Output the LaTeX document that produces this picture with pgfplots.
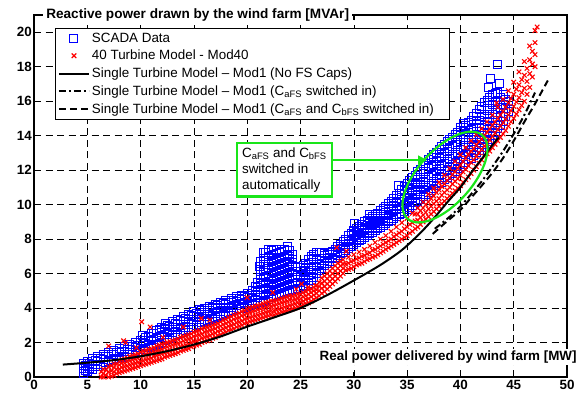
\documentclass[border=0pt]{standalone}
\usepackage{pgfplots}
\pgfplotsset{compat=1.18}
\usepackage{fontspec}
\setmainfont{Liberation Sans}
\usetikzlibrary{arrows.meta,shapes.geometric}
\definecolor{annogreen}{rgb}{0.1,0.9,0.1}
\pgfplotsset{
  markleg/.style={legend image code/.code={\draw[##1] plot coordinates {(15bp,0bp)};}},
  lineleg/.style={legend image code/.code={\draw[##1] (0bp,0bp) -- (30bp,0bp);}},
}
\begin{document}
\begin{tikzpicture}
\begin{axis}[
  at={(0,0)}, anchor=south west,
  width=533bp, height=362bp, scale only axis,
  xmin=0, xmax=50, ymin=0, ymax=21,
  xtick={0,5,...,50}, ytick={0,2,...,20},
  tick align=inside, major tick length=5bp,
  every tick/.style={black, line width=0.8bp},
  axis line style={line width=1.1bp},
  tick label style={font=\bfseries\fontsize{13.4bp}{14bp}\selectfont},
  /pgf/number format/assume math mode=true,
  yticklabel style={inner xsep=2bp},
  grid=major,
  major grid style={black, line width=0.6bp, dash pattern=on 7bp off 4.5bp},
  clip mode=individual,
  legend cell align=left,
  legend style={at={(0.039,0.964)}, anchor=north west, draw=black, fill=white,
    font=\fontsize{13.4bp}{15bp}\selectfont, inner xsep=3bp, inner ysep=2.5bp,
    row sep=2.6bp, /tikz/every even column/.append style={column sep=1bp}},
]
% SCADA data
\addplot[only marks, blue, mark=square, mark size=4bp, line width=1bp, markleg] coordinates {
(4.6,0.2)(4.6,0.5)(4.6,0.8)
(5,0.3)(5,0.6)(5,0.9)
(5.5,0.45)(5.5,0.75)(5.5,1.05)
(6,0.6)(6,0.9)(6,1.2)
(6.5,0.75)(6.5,1.0)(6.5,1.3)
(7,0.9)(7,1.2)(7,1.45)
(7.5,1.0)(7.5,1.3)(7.5,1.55)
(8,1.1)(8,1.4)(8,1.65)
(8.5,1.2)(8.5,1.5)(8.5,1.75)
(9,1.3)(9,1.6)(9,1.9)
(9.5,1.4)(9.5,1.7)(9.5,2.0)
(10,1.5)(10,1.8)(10,2.1)
(10.5,1.6)(10.5,1.95)(10.5,2.3)
(11,1.75)(11,2.1)(11,2.5)
(11.5,1.9)(11.5,2.3)(11.5,2.7)
(12,2.0)(12,2.3)(12,2.6)(12,2.85)
(12.5,2.15)(12.5,2.45)(12.5,2.75)(12.5,3.0)
(13,2.3)(13,2.6)(13,2.9)(13,3.2)
(13.5,2.45)(13.5,2.75)(13.5,3.05)(13.5,3.35)
(14,2.6)(14,2.9)(14,3.2)(14,3.5)
(14.5,2.75)(14.5,3.05)(14.5,3.35)(14.5,3.65)
(15,2.9)(15,3.2)(15,3.5)(15,3.8)
(15.5,3.05)(15.5,3.35)(15.5,3.65)(15.5,3.9)
(16,3.2)(16,3.5)(16,3.75)(16,4.0)
(16.5,3.35)(16.5,3.6)(16.5,3.85)(16.5,4.1)
(17,3.45)(17,3.7)(17,3.95)(17,4.2)
(17.5,3.55)(17.5,3.8)(17.5,4.05)(17.5,4.3)
(18,3.7)(18,3.95)(18,4.2)(18,4.45)
(18.5,3.8)(18.5,4.05)(18.5,4.3)(18.5,4.55)
(19,3.9)(19,4.15)(19,4.4)(19,4.65)
(19.5,4.0)(19.5,4.25)(19.5,4.5)(19.5,4.75)
(20,4.1)(20,4.35)(20,4.6)(20,4.85)
(20.5,4.2)(20.5,4.45)(20.5,4.7)(20.5,5.0)
(21,4.3)(21,4.6)(21,4.9)(21,5.2)(21,5.5)
(21.5,4.4)(21.5,4.75)(21.5,5.1)(21.5,5.45)(21.5,5.8)(21.5,6.15)(21.5,6.5)(21.5,6.85)(21.5,7.2)
(22,4.5)(22,4.85)(22,5.2)(22,5.55)(22,5.9)(22,6.3)(22,6.65)(22,7.0)(22,7.4)
(22.5,4.65)(22.5,5.0)(22.5,5.35)(22.5,5.7)(22.5,6.05)(22.5,6.4)(22.5,6.75)(22.5,7.1)(22.5,7.4)
(23,4.8)(23,5.15)(23,5.5)(23,5.85)(23,6.2)(23,6.55)(23,6.9)(23,7.2)(23,7.4)
(23.5,4.9)(23.5,5.25)(23.5,5.6)(23.5,5.95)(23.5,6.3)(23.5,6.65)(23.5,7.0)(23.5,7.4)
(24,5.0)(24,5.35)(24,5.7)(24,6.05)(24,6.4)(24,6.7)(24,7.0)(24,7.35)
(24.5,5.1)(24.5,5.45)(24.5,5.75)(24.5,6.1)(24.5,6.4)
(25,5.15)(25,5.5)(25,5.85)(25,6.1)(25,6.35)
(25.5,5.3)(25.5,5.65)(25.5,5.95)(25.5,6.3)(25.5,6.6)
(26,5.6)(26,5.95)(26,6.3)(26,6.65)(26,7.0)
(26.5,6.0)(26.5,6.4)(26.5,6.8)(26.5,7.2)
(27,6.3)(27,6.6)(27,6.9)(27,7.2)
(27.5,6.6)(27.5,6.85)(27.5,7.1)
(28,6.85)(28,7.1)(28,7.3)
(28.5,7.05)(28.5,7.3)(28.5,7.55)
(29,7.25)(29,7.55)(29,7.85)
(29.5,7.45)(29.5,7.85)(29.5,8.2)
(30,7.7)(30,8.0)(30,8.25)(30,8.5)
(30.5,7.9)(30.5,8.2)(30.5,8.5)(30.5,8.75)
(31,8.1)(31,8.4)(31,8.7)(31,9.0)
(31.5,8.3)(31.5,8.6)(31.5,8.9)(31.5,9.2)
(32,8.5)(32,8.8)(32,9.1)(32,9.4)
(32.5,8.7)(32.5,9.0)(32.5,9.3)(32.5,9.65)
(33,8.9)(33,9.2)(33,9.55)(33,9.9)
(33.5,9.1)(33.5,9.45)(33.5,9.8)(33.5,10.2)
(34,9.3)(34,9.7)(34,10.1)(34,10.5)
(34.5,9.5)(34.5,9.9)(34.5,10.3)(34.5,10.85)
(35,9.7)(35,10.1)(35,10.5)(35,10.85)(35,11.2)
(35.5,9.95)(35.5,10.35)(35.5,10.75)(35.5,11.15)(35.5,11.55)
(36,10.2)(36,10.6)(36,11.0)(36,11.45)(36,11.9)
(36.5,10.45)(36.5,10.85)(36.5,11.3)(36.5,11.8)(36.5,12.25)
(37,10.7)(37,11.1)(37,11.55)(37,12.1)(37,12.6)
(37.5,10.95)(37.5,11.35)(37.5,11.8)(37.5,12.35)(37.5,12.9)
(38,11.2)(38,11.6)(38,12.1)(38,12.65)(38,13.2)
(38.5,11.45)(38.5,11.9)(38.5,12.4)(38.5,12.95)(38.5,13.5)
(39,11.7)(39,12.15)(39,12.65)(39,13.25)(39,13.8)
(39.5,11.95)(39.5,12.4)(39.5,12.9)(39.5,13.5)(39.5,14.05)
(40,12.2)(40,12.65)(40,13.2)(40,13.75)(40,14.3)
(40.5,12.45)(40.5,12.9)(40.5,13.45)(40.5,14.05)(40.5,14.6)
(41,12.7)(41,13.2)(41,13.75)(41,14.35)(41,14.9)
(41.5,13.0)(41.5,13.5)(41.5,14.05)(41.5,14.7)(41.5,15.3)
(42,13.3)(42,13.85)(42,14.45)(42,15.1)(42,15.7)
(42.5,13.65)(42.5,14.2)(42.5,14.8)(42.5,15.45)(42.5,16.05)
(43,14.0)(43,14.6)(43,15.2)(43,15.8)(43,16.4)
(43.5,14.4)(43.5,14.9)(43.5,15.5)(43.5,16.0)(43.5,16.5)
(44,14.8)(44,15.3)(44,15.8)(44,16.4)
(44.5,15.4)(44.5,16.0)
(42.8,17.3)(43.5,18.1)(43.7,17.0)(40.0,14.5)(40.3,14.7)(42.6,16.8)
(34.2,11.1)(31.5,9.4)(30.1,8.9)(23.8,7.55)(21.2,6.4)(12.3,3.1)(10.2,2.4)
(4.8,0.35)(4.8,0.65)
(5.25,0.5)(5.25,0.8)
(5.75,0.6)(5.75,0.95)
(6.25,0.7)(6.25,1.05)
(6.75,0.85)(6.75,1.2)
(7.25,0.95)(7.25,1.3)
(7.75,1.05)(7.75,1.4)
(8.25,1.15)(8.25,1.5)
(8.75,1.3)(8.75,1.6)
(9.25,1.4)(9.25,1.75)
(9.75,1.5)(9.75,1.85)
(10.25,1.6)(10.25,2.0)
(10.75,1.7)(10.75,2.1)(10.75,2.35)
(11.25,1.85)(11.25,2.2)(11.25,2.55)
(11.75,1.95)(11.75,2.35)(11.75,2.75)
(12.25,2.1)(12.25,2.45)(12.25,2.8)
(12.75,2.25)(12.75,2.6)(12.75,2.95)
(13.25,2.4)(13.25,2.75)(13.25,3.1)
(13.75,2.55)(13.75,2.9)(13.75,3.25)
(14.25,2.7)(14.25,3.05)(14.25,3.4)
(14.75,2.85)(14.75,3.2)(14.75,3.55)
(15.25,3.0)(15.25,3.35)(15.25,3.7)
(15.75,3.15)(15.75,3.5)(15.75,3.85)
(16.25,3.3)(16.25,3.6)(16.25,3.95)
(16.75,3.4)(16.75,3.7)(16.75,4.05)
(17.25,3.5)(17.25,3.8)(17.25,4.15)
(17.75,3.65)(17.75,3.95)(17.75,4.25)
(18.25,3.75)(18.25,4.05)(18.25,4.35)
(18.75,3.85)(18.75,4.15)(18.75,4.45)
(19.25,3.95)(19.25,4.25)(19.25,4.55)
(19.75,4.05)(19.75,4.35)(19.75,4.65)
(20.25,4.15)(20.25,4.45)(20.25,4.75)
(20.75,4.25)(20.75,4.6)(20.75,4.95)(20.75,5.25)
(21.25,4.35)(21.25,4.7)(21.25,5.05)(21.25,5.4)(21.25,5.75)(21.25,6.1)(21.25,6.4)(21.25,6.7)
(21.75,4.45)(21.75,4.8)(21.75,5.15)(21.75,5.5)(21.75,5.85)(21.75,6.2)(21.75,6.55)(21.75,6.9)(21.75,7.25)
(22.25,4.6)(22.25,4.95)(22.25,5.3)(22.25,5.65)(22.25,6.0)(22.25,6.35)(22.25,6.7)(22.25,7.05)(22.25,7.35)
(22.75,4.7)(22.75,5.05)(22.75,5.4)(22.75,5.75)(22.75,6.1)(22.75,6.45)(22.75,6.8)(22.75,7.15)(22.75,7.4)
(23.25,4.85)(23.25,5.2)(23.25,5.55)(23.25,5.9)(23.25,6.25)(23.25,6.6)(23.25,6.95)(23.25,7.3)
(23.75,4.95)(23.75,5.3)(23.75,5.65)(23.75,6.0)(23.75,6.35)(23.75,6.7)(23.75,7.05)(23.75,7.35)
(24.25,5.05)(24.25,5.4)(24.25,5.75)(24.25,6.1)(24.25,6.45)(24.25,6.8)(24.25,7.1)
(24.75,5.15)(24.75,5.5)(24.75,5.8)(24.75,6.1)(24.75,6.35)
(25.25,5.25)(25.25,5.6)(25.25,5.9)(25.25,6.2)(25.25,6.45)
(25.75,5.45)(25.75,5.8)(25.75,6.15)(25.75,6.5)(25.75,6.8)
(26.25,5.8)(26.25,6.15)(26.25,6.5)(26.25,6.85)(26.25,7.1)
(26.75,6.15)(26.75,6.5)(26.75,6.85)(26.75,7.2)
(27.25,6.45)(27.25,6.75)(27.25,7.05)(27.25,7.15)
(27.75,6.7)(27.75,6.95)(27.75,7.2)
(28.25,6.95)(28.25,7.2)(28.25,7.4)
(28.75,7.15)(28.75,7.45)(28.75,7.7)
(29.25,7.35)(29.25,7.7)(29.25,8.0)
(29.75,7.55)(29.75,7.9)(29.75,8.2)(29.75,8.35)
(30.25,7.8)(30.25,8.1)(30.25,8.4)(30.25,8.6)
(30.75,8.0)(30.75,8.3)(30.75,8.6)(30.75,8.85)
(31.25,8.2)(31.25,8.5)(31.25,8.8)(31.25,9.1)
(31.75,8.4)(31.75,8.7)(31.75,9.0)(31.75,9.3)
(32.25,8.6)(32.25,8.9)(32.25,9.2)(32.25,9.5)
(32.75,8.8)(32.75,9.1)(32.75,9.45)(32.75,9.8)
(33.25,9.0)(33.25,9.35)(33.25,9.7)(33.25,10.05)
(33.75,9.2)(33.75,9.6)(33.75,9.95)(33.75,10.35)
(34.25,9.4)(34.25,9.8)(34.25,10.2)(34.25,10.65)
(34.75,9.6)(34.75,10.0)(34.75,10.4)(34.75,10.8)(34.75,11.05)
(35.25,9.85)(35.25,10.25)(35.25,10.65)(35.25,11.0)(35.25,11.4)
(35.75,10.1)(35.75,10.5)(35.75,10.9)(35.75,11.3)(35.75,11.7)
(36.25,10.3)(36.25,10.75)(36.25,11.15)(36.25,11.6)(36.25,12.05)
(36.75,10.6)(36.75,11.0)(36.75,11.45)(36.75,11.95)(36.75,12.4)
(37.25,10.8)(37.25,11.25)(37.25,11.7)(37.25,12.2)(37.25,12.75)
(37.75,11.1)(37.75,11.5)(37.75,11.95)(37.75,12.5)(37.75,13.05)
(38.25,11.3)(38.25,11.75)(38.25,12.25)(38.25,12.8)(38.25,13.35)
(38.75,11.6)(38.75,12.0)(38.75,12.5)(38.75,13.1)(38.75,13.65)
(39.25,11.8)(39.25,12.3)(39.25,12.8)(39.25,13.35)(39.25,13.9)
(39.75,12.1)(39.75,12.5)(39.75,13.05)(39.75,13.6)(39.75,14.2)
(40.25,12.3)(40.25,12.8)(40.25,13.3)(40.25,13.9)(40.25,14.45)
(40.75,12.6)(40.75,13.05)(40.75,13.6)(40.75,14.2)(40.75,14.75)
(41.25,12.85)(41.25,13.35)(41.25,13.9)(41.25,14.5)(41.25,15.1)
(41.75,13.15)(41.75,13.7)(41.75,14.25)(41.75,14.9)(41.75,15.5)
(42.25,13.5)(42.25,14.0)(42.25,14.6)(42.25,15.25)(42.25,15.9)
(42.75,13.8)(42.75,14.4)(42.75,15.0)(42.75,15.6)(42.75,16.2)
(43.25,14.2)(43.25,14.75)(43.25,15.35)(43.25,15.9)(43.25,16.45)
(43.75,14.6)(43.75,15.1)(43.75,15.65)(43.75,16.2)
(44.25,15.1)(44.25,15.6)(44.25,16.1)
};
\addlegendentry{SCADA Data}
% 40 turbine model
\addplot[only marks, red, mark=x, mark size=3.2bp, line width=1.1bp, markleg] coordinates {
(6.3,0.0)(6.3,0.3)
(6.5,0.0)(6.5,0.2)(6.5,0.45)
(7,0.0)(7,0.3)(7,0.6)
(7.5,0.1)(7.5,0.3)(7.5,0.55)(7.5,0.75)
(8,0.25)(8,0.45)(8,0.7)(8,0.9)
(8.5,0.35)(8.5,0.6)(8.5,0.8)(8.5,1.05)
(9,0.45)(9,0.7)(9,0.95)(9,1.2)
(9.5,0.55)(9.5,0.8)(9.5,1.05)(9.5,1.3)
(10,0.65)(10,0.9)(10,1.2)(10,1.45)
(10.5,0.75)(10.5,1.0)(10.5,1.3)(10.5,1.55)
(11,0.85)(11,1.1)(11,1.4)(11,1.65)
(11.5,0.95)(11.5,1.25)(11.5,1.5)(11.5,1.8)
(12,1.05)(12,1.35)(12,1.6)(12,1.9)
(12.5,1.2)(12.5,1.45)(12.5,1.75)(12.5,2.0)
(13,1.3)(13,1.55)(13,1.85)(13,2.1)
(13.5,1.4)(13.5,1.65)(13.5,1.95)(13.5,2.2)
(14,1.55)(14,1.8)(14,2.1)(14,2.35)
(14.5,1.65)(14.5,1.9)(14.5,2.2)(14.5,2.45)
(15,1.8)(15,2.05)(15,2.35)(15,2.6)
(15.5,1.9)(15.5,2.15)(15.5,2.45)(15.5,2.7)
(16,2.05)(16,2.3)(16,2.6)(16,2.85)
(16.5,2.15)(16.5,2.4)(16.5,2.7)(16.5,2.95)
(17,2.3)(17,2.55)(17,2.8)(17,3.05)
(17.5,2.45)(17.5,2.7)(17.5,2.95)(17.5,3.2)
(18,2.6)(18,2.85)(18,3.1)(18,3.35)
(18.5,2.75)(18.5,3.0)(18.5,3.25)(18.5,3.5)
(19,2.9)(19,3.15)(19,3.4)(19,3.65)
(19.5,3.0)(19.5,3.25)(19.5,3.55)(19.5,3.8)
(20,3.15)(20,3.4)(20,3.7)(20,3.95)
(20.5,3.25)(20.5,3.5)(20.5,3.8)(20.5,4.05)
(21,3.35)(21,3.6)(21,3.9)(21,4.15)
(21.5,3.45)(21.5,3.7)(21.5,4.0)(21.5,4.25)
(22,3.55)(22,3.8)(22,4.1)(22,4.35)
(22.5,3.6)(22.5,3.85)(22.5,4.15)(22.5,4.4)
(23,3.7)(23,3.95)(23,4.25)(23,4.5)
(23.5,3.8)(23.5,4.05)(23.5,4.35)(23.5,4.6)
(24,3.9)(24,4.15)(24,4.45)(24,4.7)
(24.5,4.0)(24.5,4.25)(24.5,4.5)(24.5,4.75)
(25,4.1)(25,4.35)(25,4.55)(25,4.8)
(25.5,4.25)(25.5,4.5)(25.5,4.7)(25.5,4.95)
(26,4.4)(26,4.65)(26,4.9)(26,5.1)
(26.5,4.6)(26.5,4.85)(26.5,5.05)(26.5,5.3)
(27,4.85)(27,5.15)(27,5.45)(27,5.75)
(27.5,5.1)(27.5,5.4)(27.5,5.7)(27.5,6.0)
(28,5.4)(28,5.7)(28,6.0)(28,6.3)
(28.5,5.7)(28.5,6.0)(28.5,6.3)(28.5,6.6)
(29,6.0)(29,6.3)(29,6.55)(29,6.8)
(29.5,6.25)(29.5,6.6)(29.5,6.95)
(30,6.4)(30,6.75)(30,7.1)
(30.5,6.55)(30.5,6.9)(30.5,7.25)
(31,6.7)(31,7.05)(31,7.4)
(31.5,6.85)(31.5,7.2)(31.5,7.6)
(32,7.0)(32,7.4)(32,7.8)
(32.5,7.2)(32.5,7.6)(32.5,8.0)
(33,7.4)(33,7.8)(33,8.2)
(33.5,7.6)(33.5,8.0)(33.5,8.45)
(34,7.8)(34,8.25)(34,8.7)
(34.5,8.0)(34.5,8.45)(34.5,8.95)
(35,8.2)(35,8.7)(35,9.2)
(35.5,8.45)(35.5,8.95)(35.5,9.5)
(36,8.7)(36,9.1)(36,9.45)(36,9.8)
(36.5,9.0)(36.5,9.4)(36.5,9.8)(36.5,10.15)
(37,9.3)(37,9.75)(37,10.15)(37,10.6)
(37.5,9.6)(37.5,10.05)(37.5,10.5)(37.5,10.95)
(38,9.9)(38,10.35)(38,10.85)(38,11.3)
(38.5,10.2)(38.5,10.7)(38.5,11.2)(38.5,11.7)
(39,10.5)(39,11.0)(39,11.55)(39,12.1)
(39.5,10.8)(39.5,11.35)(39.5,11.9)(39.5,12.5)
(40,11.1)(40,11.7)(40,12.3)(40,12.9)
(40.5,11.45)(40.5,12.05)(40.5,12.7)(40.5,13.3)
(41,11.8)(41,12.45)(41,13.1)(41,13.7)
(41.5,12.2)(41.5,12.8)(41.5,13.45)(41.5,14.05)
(42,12.6)(42,13.2)(42,13.8)(42,14.4)
(42.5,12.95)(42.5,13.55)(42.5,14.2)(42.5,14.8)
(43,13.3)(43,13.95)(43,14.6)(43,15.2)
(43.5,13.7)(43.5,14.35)(43.5,15.0)(43.5,15.65)
(44,14.1)(44,14.75)(44,15.4)(44,16.1)
(44.5,14.55)(44.5,15.2)(44.5,15.9)(44.5,16.6)
(45,15.0)(45,15.7)(45,16.4)(45,17.1)
(45.5,15.5)(45.5,16.2)(45.5,16.95)(45.5,17.7)
(46,16.0)(46,16.75)(46,17.5)(46,18.3)
(46.5,16.8)(46.5,17.6)(46.5,18.4)(46.5,19.2)
(47,18.0)(47,18.7)(47,19.4)(47,20.1)
(47.2,20.3)
(7.0,1.8)(8.4,2.1)(8.6,2.0)(9.6,1.7)(10.1,3.2)(10.9,2.9)(12.1,2.3)(14.0,2.9)
(15.7,3.4)(16.5,3.3)(20.0,4.6)(22.4,4.9)(24.6,5.1)(25.1,5.4)(25.7,5.2)(26.4,5.3)
(28.4,7.5)(29.3,7.3)(43.4,15.9)
(6.75,0.1)(6.75,0.4)
(7.25,0.05)(7.25,0.35)(7.25,0.65)
(7.75,0.2)(7.75,0.45)(7.75,0.75)
(8.25,0.3)(8.25,0.55)(8.25,0.8)(8.25,1.0)
(8.75,0.4)(8.75,0.65)(8.75,0.9)(8.75,1.1)
(9.25,0.5)(9.25,0.75)(9.25,1.0)(9.25,1.25)
(9.75,0.6)(9.75,0.85)(9.75,1.1)(9.75,1.35)
(10.25,0.7)(10.25,0.95)(10.25,1.25)(10.25,1.5)
(10.75,0.8)(10.75,1.05)(10.75,1.35)(10.75,1.6)
(11.25,0.9)(11.25,1.2)(11.25,1.45)(11.25,1.7)
(11.75,1.0)(11.75,1.3)(11.75,1.55)(11.75,1.85)
(12.25,1.15)(12.25,1.4)(12.25,1.7)(12.25,1.95)
(12.75,1.25)(12.75,1.5)(12.75,1.8)(12.75,2.05)
(13.25,1.35)(13.25,1.6)(13.25,1.9)(13.25,2.15)
(13.75,1.5)(13.75,1.75)(13.75,2.0)(13.75,2.3)
(14.25,1.6)(14.25,1.85)(14.25,2.15)(14.25,2.4)
(14.75,1.75)(14.75,2.0)(14.75,2.25)(14.75,2.5)
(15.25,1.85)(15.25,2.1)(15.25,2.4)(15.25,2.65)
(15.75,2.0)(15.75,2.25)(15.75,2.5)(15.75,2.8)
(16.25,2.1)(16.25,2.35)(16.25,2.65)(16.25,2.9)
(16.75,2.25)(16.75,2.5)(16.75,2.75)(16.75,3.0)
(17.25,2.4)(17.25,2.65)(17.25,2.9)(17.25,3.1)
(17.75,2.55)(17.75,2.8)(17.75,3.05)(17.75,3.3)
(18.25,2.7)(18.25,2.95)(18.25,3.2)(18.25,3.45)
(18.75,2.8)(18.75,3.05)(18.75,3.35)(18.75,3.6)
(19.25,2.95)(19.25,3.2)(19.25,3.45)(19.25,3.7)
(19.75,3.1)(19.75,3.35)(19.75,3.6)(19.75,3.85)
(20.25,3.2)(20.25,3.45)(20.25,3.75)(20.25,4.0)
(20.75,3.3)(20.75,3.55)(20.75,3.85)(20.75,4.1)
(21.25,3.4)(21.25,3.65)(21.25,3.95)(21.25,4.2)
(21.75,3.5)(21.75,3.75)(21.75,4.05)(21.75,4.3)
(22.25,3.6)(22.25,3.85)(22.25,4.1)(22.25,4.4)
(22.75,3.65)(22.75,3.9)(22.75,4.2)(22.75,4.45)
(23.25,3.75)(23.25,4.0)(23.25,4.3)(23.25,4.55)
(23.75,3.85)(23.75,4.1)(23.75,4.4)(23.75,4.65)
(24.25,3.95)(24.25,4.2)(24.25,4.45)(24.25,4.7)
(24.75,4.05)(24.75,4.3)(24.75,4.55)(24.75,4.8)
(25.25,4.2)(25.25,4.4)(25.25,4.65)(25.25,4.9)
(25.75,4.3)(25.75,4.55)(25.75,4.8)(25.75,5.05)
(26.25,4.5)(26.25,4.75)(26.25,5.0)(26.25,5.2)
(26.75,4.7)(26.75,5.0)(26.75,5.25)(26.75,5.5)
(27.25,4.95)(27.25,5.25)(27.25,5.55)(27.25,5.85)
(27.75,5.25)(27.75,5.55)(27.75,5.85)(27.75,6.15)
(28.25,5.55)(28.25,5.85)(28.25,6.15)(28.25,6.45)
(28.75,5.85)(28.75,6.15)(28.75,6.45)(28.75,6.7)
(29.25,6.2)(29.25,6.55)
(29.75,6.3)(29.75,6.7)
(30.25,6.5)(30.25,6.85)
(30.75,6.6)(30.75,7.0)
(31.25,6.8)(31.25,7.15)
(31.75,6.95)(31.75,7.35)
(32.25,7.1)(32.25,7.5)
(32.75,7.3)(32.75,7.7)
(33.25,7.5)(33.25,7.9)
(33.75,7.7)(33.75,8.15)
(34.25,7.9)(34.25,8.35)
(34.75,8.1)(34.75,8.6)
(35.25,8.35)(35.25,8.85)
(35.75,8.6)(35.75,9.05)(35.75,9.45)
(36.25,8.85)(36.25,9.25)(36.25,9.65)
(36.75,9.15)(36.75,9.55)(36.75,10.0)
(37.25,9.45)(37.25,9.9)(37.25,10.35)
(37.75,9.75)(37.75,10.2)(37.75,10.7)
(38.25,10.05)(38.25,10.55)(38.25,11.05)
(38.75,10.35)(38.75,10.85)(38.75,11.4)
(39.25,10.65)(39.25,11.2)(39.25,11.75)
(39.75,10.95)(39.75,11.5)(39.75,12.1)
(40.25,11.3)(40.25,11.9)(40.25,12.5)
(40.75,11.6)(40.75,12.25)(40.75,12.9)
(41.25,12.0)(41.25,12.6)(41.25,13.25)
(41.75,12.4)(41.75,13.0)(41.75,13.65)
(42.25,12.8)(42.25,13.4)(42.25,14.0)
(42.75,13.1)(42.75,13.75)(42.75,14.4)
(43.25,13.5)(43.25,14.15)(43.25,14.8)
(43.75,13.9)(43.75,14.55)(43.75,15.2)
(44.25,14.3)(44.25,14.95)(44.25,15.65)
(44.75,14.8)(44.75,15.45)(44.75,16.15)
(45.25,15.25)(45.25,15.95)(45.25,16.7)
(45.75,15.75)(45.75,16.5)(45.75,17.25)
(46.25,16.4)(46.25,17.15)(46.25,17.9)
(46.75,17.4)(46.75,18.15)(46.75,18.9)
};
\addlegendentry{40 Turbine Model - Mod40}
% single turbine, no FS caps
\addplot[black, line width=2bp, smooth, mark=none, lineleg] coordinates {
(2.7,0.72)(5,0.83)(7.5,0.98)(10,1.2)(12.5,1.5)(15,1.88)(17.5,2.35)(20,2.92)
(22.5,3.45)(25,4.0)(27.5,4.75)(30,5.6)(32.5,6.5)(34.5,7.36)(36.2,8.33)(37.5,9.2)
(39,10.3)(40,11.0)(41,11.85)(42,12.65)(43,13.45)(43.6,13.9)
};
\addlegendentry{Single Turbine Model -- Mod1 (No FS Caps)}
% CaFS switched in
\addplot[black, line width=2bp, smooth, mark=none, dash pattern=on 7bp off 3bp on 2bp off 3bp, lineleg] coordinates {
(37.6,8.6)(39,9.3)(40,9.9)(41,10.6)(42,11.35)(43,12.2)(44,13.1)(45,14.1)(46,15.2)(47,16.5)
};
\addlegendentry{Single Turbine Model -- Mod1 (C\textsubscript{aFS} switched in)}
% CaFS and CbFS switched in
\addplot[black, line width=2bp, smooth, mark=none, dash pattern=on 7bp off 4bp, lineleg] coordinates {
(37.4,8.3)(38.5,8.9)(40,9.7)(41,10.4)(42,11.1)(43,11.85)(44,12.7)(45,13.7)(46,14.8)(47,15.85)(48.2,17.2)
};
\addlegendentry{Single Turbine Model -- Mod1 (C\textsubscript{aFS} and C\textsubscript{bFS} switched in)\hspace*{10bp}}
% annotations
\node[draw=annogreen, line width=2.2bp, ellipse, minimum width=112bp, minimum height=54bp,
  inner sep=0pt, rotate=48] at (axis cs:38.55,11.6) {};
\draw[annogreen, line width=2.2bp, -{Triangle[length=9bp,width=9bp]}]
  (axis cs:27.77,12.58) -- (axis cs:36.87,12.58);
\node[draw=annogreen, line width=2.2bp, fill=white, align=left, anchor=north west,
  inner xsep=5bp, inner ysep=4bp, font=\fontsize{13.4bp}{16.3bp}\selectfont]
  at (axis cs:18.95,13.62) {C\textsubscript{aFS} and C\textsubscript{bFS}\\switched in\\automatically};
\node[fill=white, anchor=west, inner xsep=3bp, inner ysep=1.5bp,
  font=\bfseries\fontsize{13.6bp}{14bp}\selectfont] at (axis cs:0.85,21)
  {Reactive power drawn by the wind farm [MVAr]};
\node[fill=white, anchor=east, inner xsep=3bp, inner ysep=2bp,
  font=\bfseries\fontsize{13.4bp}{14bp}\selectfont] at (axis cs:51.2,1.16)
  {Real power delivered by wind farm [MW]};
\end{axis}
\pgfresetboundingbox
\useasboundingbox (-34bp,-17bp) rectangle (550bp,377bp);
\end{tikzpicture}
\end{document}
